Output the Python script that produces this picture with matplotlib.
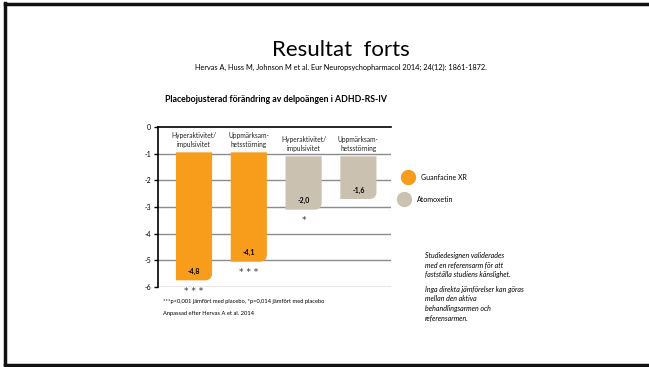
import matplotlib
matplotlib.use("Agg")
import matplotlib.pyplot as plt
from matplotlib.path import Path
from matplotlib.patches import PathPatch
from matplotlib.lines import Line2D

plt.rcParams['font.family'] = ['Lato', 'DejaVu Sans']

# placebo-adjusted change per subscale
categories = ["Hyperaktivitet/\nimpulsivitet", "Uppmärksam-\nhetsstörning",
              "Hyperaktivitet/\nimpulsivitet", "Uppmärksam-\nhetsstörning"]
values = [-4.8, -4.1, -2.0, -1.6]
value_labels = ["-4,8", "-4,1", "-2,0", "-1,6"]
stars = ["* * *", "* * *", "*", ""]
groups = ["Guanfacine XR", "Guanfacine XR", "Atomoxetin", "Atomoxetin"]
yticks = [0, -1, -2, -3, -4, -5, -6]

colors = {"Guanfacine XR": "#F89C1C", "Atomoxetin": "#CBC1B1"}
bar_top = {"Guanfacine XR": -0.95, "Atomoxetin": -1.1}

W, H = 649, 367
fig = plt.figure(figsize=(W / 100, H / 100), dpi=100)

# slide frame (left, top, bottom)
for xs, ys in [([5 / W, 5 / W], [3 / H, 1 - 3 / H]),
               ([5 / W, 1], [1 - 4 / H, 1 - 4 / H]),
               ([5 / W, 1], [2 / H, 2 / H])]:
    fig.add_artist(Line2D(xs, ys, color="#111111", lw=2.5))

fig.text(341 / W, 1 - 50 / H, "Resultat  forts", ha="center", va="center", fontsize=16)
fig.text(341 / W, 1 - 67 / H,
         "Hervas A, Huss M, Johnson M et al. Eur Neuropsychopharmacol 2014; 24(12): 1861-1872.",
         ha="center", va="center", fontsize=5.3)
fig.text(165 / W, 1 - 100 / H, "Placebojusterad förändring av delpoängen i ADHD-RS-IV",
         ha="left", va="center", fontsize=6.3, fontweight="bold")

ax = fig.add_axes([158 / W, 1 - 287 / H, 233 / W, 160 / H])
ax.set_xlim(-0.657, 3.595)
ax.set_ylim(-6, 0)
for s in ["right", "bottom"]:
    ax.spines[s].set_visible(False)
ax.spines["left"].set_linewidth(1.2)
ax.spines["top"].set_linewidth(1.2)
ax.set_xticks([])
ax.set_yticks(yticks)
ax.set_yticklabels([str(t) for t in yticks], fontsize=5)
ax.tick_params(axis="y", length=3, width=1, pad=2)
for t in yticks[1:]:
    ax.axhline(t, color="#8C8C8C", lw=1, zorder=1)

bw = 0.66
rx, ry = 0.13, 0.27
for i, v in enumerate(values):
    g = groups[i]
    top = bar_top[g]
    bot = top + v
    x0, x1 = i - bw / 2, i + bw / 2
    verts = [(x0, top), (x0, bot), (x1 - rx, bot), (x1, bot), (x1, bot + ry),
             (x1, top), (x0, top)]
    codes = [Path.MOVETO, Path.LINETO, Path.LINETO, Path.CURVE3, Path.CURVE3,
             Path.LINETO, Path.CLOSEPOLY]
    ax.add_patch(PathPatch(Path(verts, codes), facecolor=colors[g], edgecolor="none", zorder=2))
    ax.text(i, bot + 0.33, value_labels[i], ha="center", va="center", fontsize=5,
            fontweight="bold", zorder=3)
    if stars[i]:
        ax.text(i, bot - 0.4, stars[i], ha="center", va="center", fontsize=6.5,
                color="#333333", clip_on=False, family="DejaVu Sans")
    ax.text(i, top + 0.47, categories[i], ha="center", va="center", fontsize=4.8,
            linespacing=1.25, color="#222222")

# legend
for name, (mx, tx, yy) in {"Guanfacine XR": (408, 421, 177),
                           "Atomoxetin": (404, 417, 199)}.items():
    fig.add_artist(Line2D([mx / W], [1 - yy / H], marker="o", markersize=10,
                          color=colors[name], lw=0))
    fig.text(tx / W, 1 - yy / H, name, ha="left", va="center", fontsize=5)

fig.text(163 / W, 1 - 302 / H,
         "***p<0,001 jämfört med placebo, *p=0,014 jämfört med placebo",
         ha="left", va="center", fontsize=4.15)
fig.text(163 / W, 1 - 314 / H, "Anpassad efter Hervas A et al. 2014",
         ha="left", va="center", fontsize=4.15)

note1 = "Studiedesignen validerades\nmed en referensarm för att\nfastställa studiens känslighet."
note2 = "Inga direkta jämförelser kan göras\nmellan den aktiva\nbehandlingsarmen och\nreferensarmen."
fig.text(425 / W, 1 - 252 / H, note1, ha="left", va="top", fontsize=5,
         style="italic", linespacing=1.4)
fig.text(425 / W, 1 - 286 / H, note2, ha="left", va="top", fontsize=5,
         style="italic", linespacing=1.4)

fig.savefig("out.png", dpi=100)
